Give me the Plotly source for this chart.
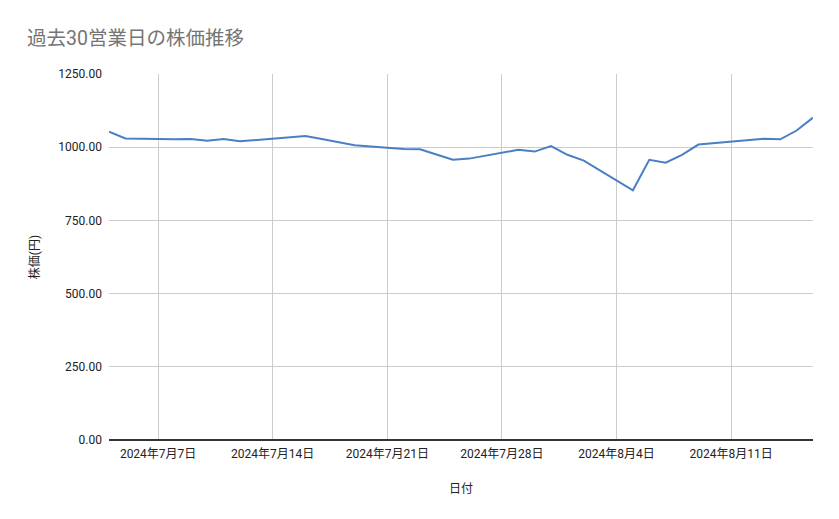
import plotly.graph_objects as go

# 株価データ（過去30営業日）
dates = [
    "2024-07-04", "2024-07-05",
    "2024-07-08", "2024-07-09", "2024-07-10", "2024-07-11", "2024-07-12",
    "2024-07-16", "2024-07-17", "2024-07-18", "2024-07-19",
    "2024-07-22", "2024-07-23", "2024-07-24", "2024-07-25", "2024-07-26",
    "2024-07-29", "2024-07-30", "2024-07-31", "2024-08-01", "2024-08-02",
    "2024-08-05", "2024-08-06", "2024-08-07", "2024-08-08", "2024-08-09",
    "2024-08-13", "2024-08-14", "2024-08-15", "2024-08-16",
]
prices = [
    1053, 1030,
    1027, 1028, 1022, 1028, 1020,
    1038, 1028, 1018, 1007,
    994, 993, 975, 957, 961,
    991, 985, 1004, 974, 954,
    853, 957, 947, 974, 1009,
    1029, 1027, 1057, 1101,
]
y_ticks = [0, 250, 500, 750, 1000, 1250]

font_main = "Roboto, 'Noto Sans CJK JP', sans-serif"

fig = go.Figure()
fig.add_trace(go.Scatter(
    x=dates, y=prices, mode="lines",
    line=dict(color="#4a7fc4", width=2),
    showlegend=False,
))

# ページ余白(8px)を見込んだ配置
fig.update_layout(
    width=839, height=519,
    margin=dict(l=101, r=34, t=66, b=87),
    plot_bgcolor="white", paper_bgcolor="white",
    font=dict(family=font_main, size=12, color="#222222"),
    title=dict(
        text="過去30営業日の株価推移",
        x=19 / 839, xanchor="left", y=1 - 30 / 519, yanchor="middle",
        font=dict(size=19.5, color="#757575", family=font_main),
    ),
)
fig.update_xaxes(
    range=["2024-07-04", "2024-08-16"],
    tick0="2024-07-07", dtick=7 * 86400000,
    tickformat="%Y年%-m月%-d日",
    showgrid=True, gridcolor="#cccccc", gridwidth=1,
    ticks="", showline=False, zeroline=False,
    ticklabelstandoff=5,
    title=dict(text="日付", standoff=24, font=dict(size=12)),
)
fig.update_yaxes(
    range=[0, 1250], tickvals=y_ticks, tickformat=".2f",
    showgrid=True, gridcolor="#cccccc", gridwidth=1,
    zeroline=True, zerolinecolor="#333333", zerolinewidth=1.5,
    ticks="", ticklabelstandoff=6,
    title=dict(text="株価(円)", standoff=16, font=dict(size=12)),
)

fig.write_html("out.html")
